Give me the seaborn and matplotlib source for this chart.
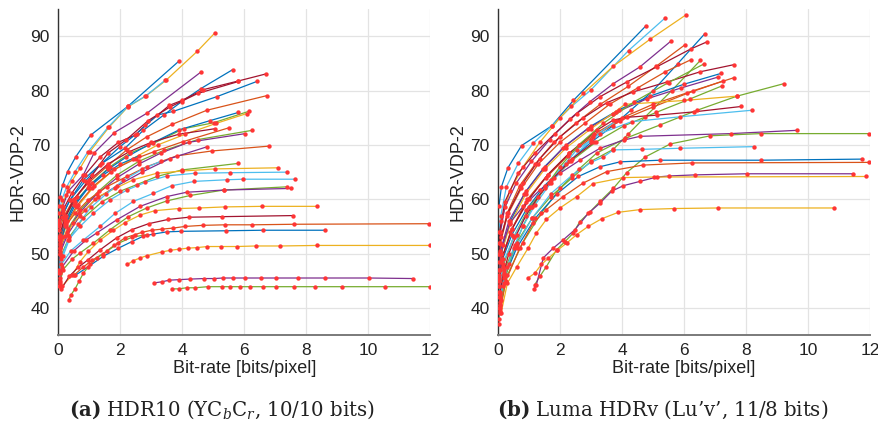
import numpy as np
import pandas as pd
import matplotlib
matplotlib.use("Agg")
import matplotlib.pyplot as plt
import seaborn as sns

# ---------------- data: (a) HDR10 (YCbCr, 10/10 bits) ----------------
# each curve: (bit-rates [bits/pixel], HDR-VDP-2 scores)
h01 = ([0.03, 0.11, 0.25, 0.43, 0.70, 1.02, 1.64, 2.24, 2.82, 3.47, 4.49, 5.06],
       [56.2, 58.7, 60.8, 63.3, 65.7, 68.8, 73.3, 77.0, 79.0, 81.9, 87.3, 90.7])
h02 = ([0.01, 0.05, 0.14, 0.30, 0.56, 1.04, 2.24, 3.88],
       [58.7, 60.5, 62.6, 65.1, 67.8, 71.8, 77.1, 85.4])
h03 = ([0.02, 0.11, 0.27, 0.54, 0.95, 1.61, 2.24, 2.81, 3.44],
       [57.4, 59.9, 62.3, 65.1, 68.7, 73.3, 77.1, 79.0, 81.9])
h04 = ([0.03, 0.14, 0.32, 0.81, 1.15, 1.81, 2.87, 4.59],
       [55.5, 58.5, 61.5, 64.5, 68.5, 72.3, 75.9, 83.4])
h05 = ([0.03, 0.16, 0.38, 0.81, 1.35, 2.15, 2.74, 3.42, 3.98, 4.60, 5.63],
       [55.0, 57.4, 59.9, 63.6, 66.4, 69.4, 72.7, 75.6, 78.0, 80.4, 83.9])
h06 = ([0.03, 0.16, 0.43, 0.86, 1.35, 1.94, 2.47, 2.80, 3.58, 3.98, 4.68, 5.81, 6.70],
       [55.6, 58.1, 61.1, 64.5, 67.8, 70.5, 71.8, 73.6, 77.3, 78.2, 80.2, 81.8, 83.1])
h07 = ([0.11, 0.38, 0.86, 1.40, 1.99, 2.53, 3.18, 3.71, 5.11, 6.40],
       [56.8, 59.9, 63.3, 66.6, 69.7, 72.1, 75.5, 76.2, 78.9, 81.7])
h08 = ([0.05, 0.25, 0.60, 1.10, 1.60, 2.20, 2.90, 3.60, 4.50, 5.81],
       [53.5, 57.0, 60.5, 64.5, 68.5, 71.0, 74.5, 77.0, 79.5, 81.7])
h09 = ([0.03, 0.18, 0.48, 0.97, 1.56, 2.21, 2.85, 3.67, 4.79, 6.73],
       [54.4, 56.8, 59.9, 63.0, 66.0, 69.1, 71.5, 73.8, 76.4, 79.1])
h10 = ([0.05, 0.22, 0.54, 1.08, 1.67, 2.31, 3.07, 4.04, 5.01, 6.14],
       [53.0, 56.0, 59.5, 63.0, 66.0, 68.5, 70.3, 73.0, 74.1, 76.2])
h11 = ([0.04, 0.20, 0.50, 1.00, 1.60, 2.20, 2.90, 3.90, 4.90, 5.81],
       [52.5, 55.5, 59.0, 62.5, 65.5, 67.8, 70.0, 72.8, 74.5, 76.0])
h12 = ([0.06, 0.25, 0.60, 1.10, 1.70, 2.40, 3.20, 4.10, 5.10, 6.08],
       [51.5, 55.0, 58.5, 62.0, 65.0, 67.5, 70.0, 72.0, 74.0, 75.8])
h13 = ([0.05, 0.25, 0.62, 1.15, 1.80, 2.50, 3.10, 4.01, 5.52],
       [52.0, 55.5, 59.0, 62.5, 65.5, 67.5, 68.8, 70.6, 73.2])
h14 = ([0.06, 0.30, 0.70, 1.30, 1.90, 2.60, 3.40, 4.50, 6.25],
       [51.0, 54.5, 58.0, 61.5, 64.5, 67.0, 69.0, 71.0, 72.7])
h15 = ([0.05, 0.28, 0.68, 1.25, 1.90, 2.60, 3.30, 4.20, 6.03],
       [50.5, 54.0, 57.5, 61.0, 64.0, 66.5, 68.5, 70.5, 72.1])
h16 = ([0.03, 0.20, 0.50, 1.00, 1.60, 2.30, 3.00, 3.90, 5.05],
       [53.0, 56.5, 60.0, 63.5, 66.5, 68.8, 70.5, 72.0, 73.0])
h17 = ([0.05, 0.22, 0.54, 0.97, 1.56, 2.21, 2.85, 3.82, 4.95, 6.81],
       [52.5, 55.0, 57.4, 59.9, 62.3, 64.2, 66.0, 68.0, 68.9, 69.8])
h18 = ([0.05, 0.30, 0.70, 1.20, 1.90, 2.70, 3.60, 4.81],
       [50.0, 53.5, 57.0, 60.0, 62.5, 65.0, 67.5, 69.7])
h19 = ([0.08, 0.35, 0.80, 1.40, 2.00, 2.53, 3.18, 3.98, 5.79],
       [49.5, 53.0, 56.5, 59.5, 61.5, 62.7, 64.2, 65.4, 66.6])
h20 = ([0.05, 0.22, 0.48, 0.86, 1.29, 1.83, 2.42, 3.18, 3.98, 5.06, 7.08],
       [51.0, 53.2, 55.6, 58.1, 60.5, 62.0, 63.6, 64.8, 65.2, 65.6, 65.8])
h21 = ([0.03, 0.08, 0.32, 0.70, 1.13, 1.67, 2.21, 2.80, 3.50, 4.41, 5.54, 7.39],
       [46.5, 49.0, 52.5, 55.0, 57.4, 59.9, 61.7, 63.1, 64.3, 64.8, 64.9, 65.0])
h22 = ([0.04, 0.10, 0.40, 0.81, 1.35, 1.83, 2.42, 3.07, 3.66, 4.39, 5.44, 5.97, 7.64],
       [45.5, 48.0, 50.5, 52.5, 55.0, 57.4, 59.6, 61.1, 62.5, 63.3, 63.6, 63.7, 63.7])
h23 = ([0.05, 0.15, 0.45, 0.70, 1.13, 1.67, 2.26, 2.85, 3.50, 4.25, 5.33, 7.39],
       [44.5, 47.0, 49.0, 50.1, 51.9, 54.4, 56.8, 58.4, 59.7, 60.7, 61.7, 62.3])
h24 = ([0.04, 0.12, 0.50, 0.90, 1.24, 1.88, 2.64, 3.50, 4.14, 5.33, 7.50],
       [45.0, 47.5, 50.5, 52.5, 53.8, 56.2, 58.7, 60.5, 61.3, 61.7, 62.0])
h25 = ([0.12, 0.45, 0.70, 0.97, 1.35, 1.78, 2.15, 2.64, 3.11, 3.88, 4.55, 5.38, 6.57, 8.36],
       [44.0, 46.0, 48.5, 50.4, 52.5, 54.3, 55.7, 57.1, 57.9, 58.3, 58.4, 58.6, 58.7, 58.7])
h26 = ([0.10, 0.35, 0.65, 0.97, 1.35, 1.88, 2.37, 2.91, 3.55, 4.22, 5.27, 7.57],
       [43.5, 45.8, 47.5, 48.9, 50.7, 52.9, 54.4, 55.5, 56.3, 56.7, 56.8, 57.0])
h27 = ([0.50, 0.80, 1.10, 1.45, 1.80, 2.15, 2.48, 2.69, 3.01, 3.34, 3.71, 4.09, 4.66, 5.38, 6.26, 7.61, 11.95],
       [46.0, 47.5, 48.8, 50.0, 51.5, 52.9, 53.5, 53.9, 54.3, 54.5, 54.7, 55.0, 55.2, 55.3, 55.3, 55.4, 55.5])
h28 = ([0.55, 0.97, 1.45, 1.94, 2.37, 2.74, 3.07, 3.50, 3.97, 5.40, 6.59, 8.61],
       [46.0, 47.6, 49.5, 51.0, 52.2, 53.2, 53.6, 54.0, 54.1, 54.2, 54.3, 54.3])
h29 = ([2.23, 2.42, 2.64, 2.85, 3.34, 3.61, 3.88, 4.18, 4.47, 4.81, 5.24, 5.75, 6.37, 7.16, 8.36, 12.0],
       [48.0, 48.7, 49.2, 49.6, 50.3, 50.6, 50.8, 51.0, 51.1, 51.3, 51.3, 51.3, 51.4, 51.4, 51.5, 51.5])
h30 = ([3.09, 3.34, 3.58, 3.90, 4.25, 4.70, 5.03, 5.31, 5.63, 6.03, 6.53, 7.03, 7.73, 8.61, 10.01, 11.44],
       [44.6, 44.8, 45.1, 45.2, 45.3, 45.4, 45.4, 45.5, 45.5, 45.5, 45.5, 45.5, 45.5, 45.5, 45.5, 45.4])
h31 = ([3.66, 3.88, 4.14, 4.41, 4.82, 5.27, 5.54, 5.85, 6.19, 6.59, 7.03, 7.59, 8.28, 9.15, 10.55, 11.98],
       [43.5, 43.5, 43.7, 43.7, 43.9, 43.9, 43.9, 43.9, 43.9, 43.9, 43.9, 43.9, 43.9, 43.9, 43.9, 43.9])
h32 = ([0.34, 0.41, 0.54, 0.67, 0.81, 1.02, 1.24, 1.56, 1.94, 2.37, 2.85],
       [41.5, 42.4, 43.5, 44.9, 46.4, 48.0, 49.2, 50.4, 51.9, 53.0, 53.5])
h33 = ([0.02, 0.06, 0.15, 0.35, 0.65, 1.05, 1.55, 2.10, 2.70, 3.30],
       [44.0, 46.5, 49.5, 52.5, 55.5, 58.5, 61.0, 63.5, 65.5, 67.0])
h34 = ([0.01, 0.04, 0.12, 0.28, 0.55, 0.95, 1.45, 2.00, 2.60],
       [47.0, 50.0, 53.0, 56.0, 59.0, 62.0, 64.5, 66.5, 68.0])

hdr10_curves = [h01, h02, h03, h04, h05, h06, h07, h08, h09, h10, h11, h12,
                h13, h14, h15, h16, h17, h18, h19, h20, h21, h22, h23, h24,
                h25, h26, h27, h28, h29, h30, h31, h32, h33, h34]
hdr10_colors = ["yellow", "blue", "lightblue", "purple", "blue", "darkred",
                "blue", "darkred", "orange", "green", "blue", "yellow",
                "orange", "green", "purple", "darkred", "orange", "purple",
                "green", "yellow", "lightblue", "lightblue", "green", "purple",
                "yellow", "darkred", "orange", "blue", "yellow", "purple",
                "green", "green", "lightblue", "blue"]

# ---------------- data: (b) Luma HDRv (Lu'v', 11/8 bits) ----------------
r01 = ([0.03, 0.11, 0.32, 0.76, 1.73, 2.43, 4.78],
       [58.7, 62.3, 65.8, 69.9, 73.5, 78.2, 92.0])
r02 = ([0.02, 0.09, 0.27, 0.65, 1.13, 1.73, 2.37, 2.99, 4.21, 5.39],
       [54.0, 57.0, 62.3, 66.6, 70.3, 73.5, 77.1, 80.1, 87.4, 93.4])
r03 = ([0.03, 0.11, 0.38, 0.81, 1.35, 2.00, 2.75, 3.72, 4.91, 6.07],
       [52.0, 56.0, 61.5, 66.0, 70.5, 75.0, 79.5, 84.5, 89.5, 94.0])
r04 = ([0.03, 0.08, 0.22, 0.59, 1.08, 1.67, 2.32, 2.97, 3.72, 4.58, 5.59],
       [50.0, 54.0, 58.5, 63.0, 67.0, 71.0, 74.8, 78.0, 81.3, 84.4, 89.2])
r05 = ([0.03, 0.10, 0.30, 0.70, 1.20, 1.80, 2.50, 3.30, 4.20, 5.10, 6.04],
       [48.5, 53.0, 57.5, 62.5, 66.5, 70.5, 74.0, 77.5, 80.8, 84.5, 88.5])
r06 = ([0.04, 0.15, 0.45, 0.90, 1.50, 2.20, 3.00, 3.70, 4.30, 5.00, 5.80, 6.67],
       [45.0, 49.0, 53.5, 58.0, 62.5, 66.5, 70.5, 73.5, 76.5, 80.0, 85.0, 90.5])
r07 = ([0.02, 0.05, 0.22, 0.65, 1.19, 1.83, 2.54, 3.29, 4.15, 5.12, 6.22, 6.74],
       [50.0, 54.0, 59.5, 64.8, 68.5, 72.1, 75.8, 78.9, 81.6, 84.4, 87.7, 89.0])
r08 = ([0.03, 0.08, 0.30, 0.75, 1.30, 2.00, 2.80, 3.60, 4.50, 5.40, 6.22],
       [47.0, 52.0, 57.0, 62.0, 66.5, 70.5, 74.0, 77.5, 80.5, 83.5, 85.7])
r09 = ([0.05, 0.20, 0.60, 1.10, 1.70, 2.40, 3.00, 3.72, 4.20, 4.75, 5.60, 6.53],
       [42.0, 47.0, 52.0, 56.5, 60.5, 64.0, 67.0, 69.2, 72.0, 75.2, 80.0, 85.6])
r10 = ([0.02, 0.05, 0.32, 0.81, 1.35, 2.00, 2.75, 3.51, 4.37, 5.45, 6.53, 7.61],
       [47.0, 52.0, 57.5, 63.0, 67.5, 71.5, 75.0, 77.8, 79.8, 81.6, 83.5, 84.8])
r11 = ([0.03, 0.10, 0.40, 0.90, 1.50, 2.20, 3.00, 3.90, 4.90, 6.00, 7.20],
       [45.0, 50.0, 56.0, 61.5, 66.0, 70.0, 73.5, 76.5, 79.0, 81.2, 83.2])
r12 = ([0.02, 0.08, 0.35, 0.85, 1.45, 2.10, 2.90, 3.80, 4.80, 5.90, 7.09],
       [46.0, 50.5, 56.0, 61.0, 65.5, 69.5, 73.0, 76.0, 78.5, 80.5, 82.5])
r13 = ([0.04, 0.12, 0.45, 0.95, 1.60, 2.30, 3.10, 4.00, 5.00, 6.30, 7.61],
       [44.0, 49.0, 54.5, 60.0, 64.5, 68.5, 72.0, 75.0, 77.5, 80.0, 82.4])
r14 = ([0.03, 0.10, 0.40, 0.90, 1.55, 2.25, 3.05, 3.95, 5.00, 6.10, 7.26],
       [43.0, 48.5, 54.0, 59.5, 64.0, 68.0, 71.5, 74.5, 77.0, 79.5, 81.8])
r15 = ([0.04, 0.15, 0.50, 1.00, 1.65, 2.35, 3.15, 4.05, 5.10, 6.20, 7.23],
       [42.0, 47.5, 53.0, 58.5, 63.0, 67.0, 70.5, 73.5, 76.0, 78.5, 80.9])
r16 = ([0.08, 0.30, 0.80, 1.40, 2.00, 2.60, 3.18, 4.10, 5.23, 6.42, 7.71, 9.22],
       [40.5, 46.0, 52.0, 57.5, 62.0, 65.5, 68.5, 71.2, 73.7, 76.4, 79.0, 81.3])
r17 = ([0.03, 0.10, 0.40, 0.90, 1.50, 2.20, 3.00, 3.70, 4.10, 5.99, 7.70],
       [45.5, 50.0, 55.5, 61.0, 65.5, 69.5, 73.0, 75.8, 77.5, 78.2, 79.0])
r18 = ([0.04, 0.12, 0.45, 1.00, 1.60, 2.30, 3.18, 3.72, 4.15, 5.12, 6.31, 7.85],
       [44.0, 49.0, 54.5, 60.0, 64.5, 68.5, 72.7, 74.6, 75.1, 75.5, 76.1, 77.1])
r19 = ([0.05, 0.15, 0.50, 1.05, 1.70, 2.54, 3.29, 4.31, 5.88, 8.18],
       [42.5, 48.0, 53.0, 58.5, 63.5, 69.1, 72.1, 74.3, 75.2, 76.4])
r20 = ([0.05, 0.15, 0.38, 0.81, 1.35, 2.00, 2.64, 3.29, 4.05, 4.58, 7.50, 9.63],
       [47.0, 51.5, 55.6, 58.7, 61.7, 64.8, 67.2, 69.4, 70.9, 71.6, 72.1, 72.7])
r21 = ([1.19, 1.35, 1.56, 1.89, 2.16, 2.43, 2.64, 2.97, 3.29, 3.72, 4.15, 4.75, 5.56, 6.85, 8.47, 11.97],
       [44.3, 45.8, 47.6, 50.7, 52.2, 53.8, 55.9, 57.7, 59.6, 62.0, 64.9, 67.8, 70.2, 71.7, 72.1, 72.1])
r22 = ([0.05, 0.20, 0.60, 1.10, 1.70, 2.40, 3.00, 3.40, 3.72, 4.64, 5.88, 8.25],
       [40.5, 46.0, 51.5, 56.5, 61.0, 64.5, 66.8, 67.8, 69.1, 69.2, 69.4, 69.7])
r23 = ([0.06, 0.20, 0.60, 1.20, 1.90, 2.59, 3.29, 3.94, 5.23, 8.47, 11.73],
       [40.0, 45.5, 51.0, 56.5, 61.0, 64.2, 66.0, 66.9, 67.2, 67.2, 67.4])
r24 = ([0.08, 0.25, 0.70, 1.13, 1.56, 2.10, 2.75, 3.51, 4.67, 6.26, 11.97],
       [39.5, 45.0, 51.0, 55.6, 58.1, 60.5, 63.0, 65.1, 66.3, 66.7, 66.8])
r25 = ([1.16, 1.24, 1.46, 1.78, 2.10, 2.48, 2.91, 3.29, 3.67, 4.04, 4.58, 5.12, 5.53, 6.36, 8.02, 11.45],
       [43.4, 44.3, 49.2, 51.0, 52.5, 54.4, 57.4, 59.3, 61.5, 62.5, 63.3, 64.1, 64.3, 64.5, 64.7, 64.7])
r26 = ([0.10, 0.30, 0.60, 0.97, 1.24, 1.56, 2.00, 2.54, 3.07, 4.04, 5.02, 11.87],
       [39.0, 44.5, 47.5, 51.0, 53.8, 56.3, 58.4, 60.5, 62.9, 64.0, 64.1, 64.2])
r27 = ([0.97, 1.19, 1.40, 1.62, 1.91, 2.21, 2.54, 2.91, 3.34, 3.88, 4.58, 5.69, 7.09, 10.84],
       [45.5, 46.4, 48.0, 49.1, 50.6, 51.9, 53.5, 55.0, 56.4, 57.6, 58.1, 58.3, 58.4, 58.4])
r28 = ([0.02, 0.05, 0.10, 0.20, 0.35, 0.55, 0.80, 1.10, 1.50, 2.00, 2.60, 3.40, 4.40, 5.50, 6.63],
       [37.0, 39.0, 41.5, 44.5, 48.0, 51.5, 55.0, 58.5, 62.0, 66.0, 70.0, 74.0, 78.0, 81.5, 84.9])
r29 = ([0.02, 0.06, 0.15, 0.30, 0.50, 0.80, 1.20, 1.70, 2.30, 3.00, 3.80],
       [38.0, 41.0, 44.0, 47.5, 51.0, 55.0, 59.0, 63.0, 67.0, 71.0, 74.5])
r30 = ([0.03, 0.07, 0.18, 0.35, 0.60, 0.90, 1.30, 1.80, 2.40, 3.10],
       [40.0, 43.0, 46.5, 50.0, 53.5, 57.0, 60.5, 64.0, 67.5, 70.5])

hdrv_curves = [r01, r02, r03, r04, r05, r06, r07, r08, r09, r10, r11, r12,
               r13, r14, r15, r16, r17, r18, r19, r20, r21, r22, r23, r24,
               r25, r26, r27, r28, r29, r30]
hdrv_colors = ["blue", "lightblue", "yellow", "purple", "orange", "blue",
               "darkred", "orange", "green", "darkred", "blue", "purple",
               "orange", "orange", "green", "green", "yellow", "darkred",
               "lightblue", "purple", "green", "lightblue", "blue", "orange",
               "purple", "yellow", "yellow", "green", "lightblue", "darkred"]

x_ticks = [0, 2, 4, 6, 8, 10, 12]
y_ticks = [40, 50, 60, 70, 80, 90]
x_label = "Bit-rate [bits/pixel]"
y_label = "HDR-VDP-2"
captions = [r"$\mathbf{(a)}$ HDR10 (YC$_b$C$_r$, 10/10 bits)",
            r"$\mathbf{(b)}$ Luma HDRv (Lu’v’, 11/8 bits)"]

# ---------------- styling ----------------
PALETTE = {"blue": "#0072BD", "orange": "#D95319", "yellow": "#EDB120",
           "purple": "#7E2F8E", "green": "#77AC30", "lightblue": "#4DBEEE",
           "darkred": "#A2142F"}
MARK = "#FF3535"

sns.set_theme(style="white")
plt.rcParams["font.family"] = ["Liberation Sans", "DejaVu Sans"]
plt.rcParams["mathtext.fontset"] = "dejavuserif"


def to_frame(curves, colors):
    rows = []
    for i, ((xs, ys), c) in enumerate(zip(curves, colors)):
        for k, (x, y) in enumerate(zip(xs, ys)):
            rows.append({"curve": f"c{i:02d}", "color": c, "order": k,
                         "rate": x, "score": y})
    return pd.DataFrame(rows)


fig = plt.figure(figsize=(8.79, 4.28), dpi=100)
W, H = 879, 428
axes_px = [(58.3, 430.3), (498.0, 870.0)]
caption_cx = [222, 663]
bottom_px, top_px = 335.0, 9.3

panels = [(hdr10_curves, hdr10_colors), (hdrv_curves, hdrv_colors)]
for idx, ((curves, colors), (l, r)) in enumerate(zip(panels, axes_px)):
    ax = fig.add_axes([l / W, (H - bottom_px) / H, (r - l) / W, (bottom_px - top_px) / H])
    df = to_frame(curves, colors)
    pal = {f"c{i:02d}": PALETTE[c] for i, c in enumerate(colors)}
    sns.lineplot(data=df, x="rate", y="score", hue="curve", units="curve",
                 estimator=None, sort=False, palette=pal, legend=False,
                 linewidth=0.9, ax=ax, zorder=2)
    sns.scatterplot(data=df, x="rate", y="score", color=MARK, s=10,
                    linewidth=0, legend=False, ax=ax, zorder=3)
    ax.set_xlim(0, 12)
    ax.set_ylim(35, 95)
    ax.set_xticks(x_ticks)
    ax.set_yticks(y_ticks)
    ax.grid(True, color="#e3e3e3", linewidth=0.9)
    ax.set_axisbelow(True)
    for s in ["top", "right"]:
        ax.spines[s].set_visible(False)
    ax.spines["left"].set_color("#333333")
    ax.spines["left"].set_linewidth(1.0)
    ax.spines["bottom"].set_color("#7a7a7a")
    ax.spines["bottom"].set_linewidth(1.4)
    ax.tick_params(axis="both", direction="in", length=3, width=0.9,
                   colors="#222222", labelsize=12.5, labelcolor="#222222")
    ax.tick_params(axis="x", pad=6)
    ax.tick_params(axis="y", pad=6)
    ax.set_xlabel(x_label, fontsize=13, color="#222222", labelpad=1)
    ax.set_ylabel(y_label, fontsize=13, color="#222222", labelpad=3)
    fig.text(caption_cx[idx] / W, 1 - 410 / H, captions[idx], ha="center",
             va="center", fontsize=14.2, family="DejaVu Serif", color="#222222")

fig.savefig("out.png", dpi=100)
